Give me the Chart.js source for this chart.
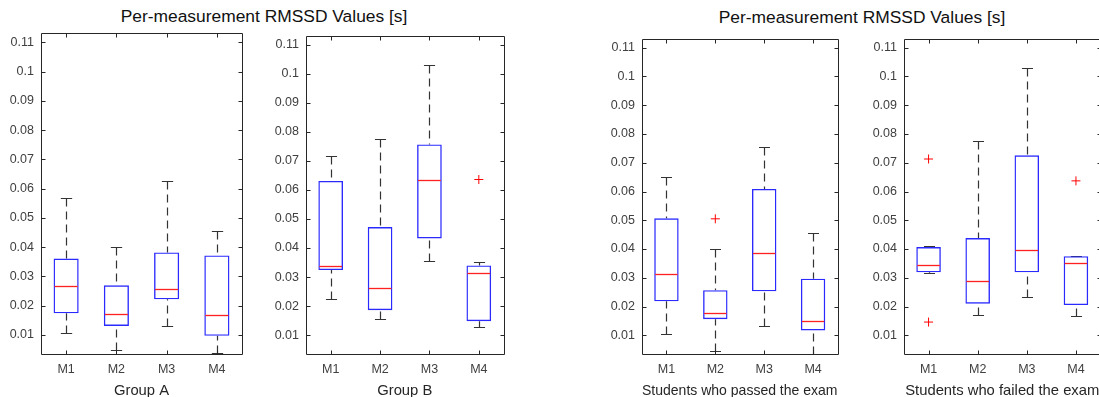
<!DOCTYPE html>
<html><head><meta charset="utf-8">
<script src="https://cdn.jsdelivr.net/npm/chart.js@4.4.0/dist/chart.umd.min.js"></script>
<style>
html,body{margin:0;padding:0;background:#fff;overflow:hidden;width:1099px;height:397px;position:relative;}
.panel{position:absolute;}
.title{position:absolute;font-family:"Liberation Sans",Arial,sans-serif;font-size:17.4px;line-height:19px;color:#111;white-space:nowrap;transform:translateX(-50%);}
</style></head><body>
<div class="title" style="left:264px;top:7px">Per-measurement RMSSD Values [s]</div>
<div class="title" style="left:862px;top:8px">Per-measurement RMSSD Values [s]</div>
<div class="panel" id="w1"><canvas id="c1"></canvas></div>
<div class="panel" id="w2"><canvas id="c2"></canvas></div>
<div class="panel" id="w3"><canvas id="c3"></canvas></div>
<div class="panel" id="w4"><canvas id="c4"></canvas></div>
<script>
// ---- data ----
const categories = ['M1', 'M2', 'M3', 'M4'];
const yTickValues = [0.01, 0.02, 0.03, 0.04, 0.05, 0.06, 0.07, 0.08, 0.09, 0.1, 0.11];
const yMin = 0.0035, yMax = 0.1132;

// Group A
const groupA_q1  = [0.0174, 0.0131, 0.0222, 0.0097];
const groupA_q3  = [0.0361, 0.0270, 0.0382, 0.0372];
const groupA_med = [0.0266, 0.0170, 0.0257, 0.0168];
const groupA_lo  = [0.0106, 0.0049, 0.0132, 0.0038];
const groupA_hi  = [0.0567, 0.0400, 0.0625, 0.0456];
const groupA_outCat = [];
const groupA_outVal = [];

// Group B
const groupB_q1  = [0.0324, 0.0186, 0.0433, 0.0148];
const groupB_q3  = [0.0631, 0.0472, 0.0757, 0.0340];
const groupB_med = [0.0339, 0.0263, 0.0635, 0.0314];
const groupB_lo  = [0.0226, 0.0157, 0.0356, 0.0128];
const groupB_hi  = [0.0716, 0.0777, 0.1031, 0.0353];
const groupB_outCat = ['M4'];
const groupB_outVal = [0.0636];

// Students who passed
const passed_q1  = [0.0218, 0.0156, 0.0253, 0.0117];
const passed_q3  = [0.0507, 0.0257, 0.0609, 0.0297];
const passed_med = [0.0313, 0.0178, 0.0387, 0.0151];
const passed_lo  = [0.0106, 0.0047, 0.0133, 0.0035];
const passed_hi  = [0.0649, 0.0400, 0.0756, 0.0455];
const passed_outCat = ['M2'];
const passed_outVal = [0.0505];

// Students who failed
const failed_q1  = [0.0319, 0.0210, 0.0319, 0.0205];
const failed_q3  = [0.0407, 0.0438, 0.0726, 0.0375];
const failed_med = [0.0346, 0.0289, 0.0396, 0.0352];
const failed_lo  = [0.0316, 0.0170, 0.0232, 0.0168];
const failed_hi  = [0.0411, 0.0777, 0.1030, 0.0375];
const failed_outCat = ['M1', 'M1', 'M4'];
const failed_outVal = [0.0713, 0.0146, 0.0637];

const xTitles = ['Group A', 'Group B', 'Students who passed the exam', 'Students who failed the exam'];

// ---- layout (plot rectangles) ----
const FONT = '"Liberation Sans", Arial, sans-serif';
const Y_W = 41, X_H = 50, PAD = 2;
const plots = [
  {L: 41,  T: 33, R: 242,  B: 354},
  {L: 306, T: 32, R: 507,  B: 354},
  {L: 642, T: 35, R: 841,  B: 354},
  {L: 904, T: 35, R: 1104, B: 354}
];

const crisp = v => Math.round(v) + 0.5;

const boxPlugin = {
  id: 'boxExtras',
  beforeDatasetsDraw(chart) {
    const ds = chart.data.datasets[0];
    const xs = chart.scales.x, ys = chart.scales.y, ctx = chart.ctx;
    const catW = xs.getPixelForValue(1) - xs.getPixelForValue(0);
    const capW = catW * 0.5 * 0.45;
    ctx.save();
    ctx.strokeStyle = '#333';
    ctx.lineWidth = 1.2;
    ds.stats.lo.forEach((lo, i) => {
      const x = crisp(xs.getPixelForValue(i));
      const yq1 = ys.getPixelForValue(ds.stats.q1[i]);
      const yq3 = ys.getPixelForValue(ds.stats.q3[i]);
      const ylo = crisp(ys.getPixelForValue(lo));
      const yhi = crisp(ys.getPixelForValue(ds.stats.hi[i]));
      ctx.setLineDash([8, 5]);
      ctx.beginPath();
      ctx.moveTo(x, ylo); ctx.lineTo(x, yq1);
      ctx.moveTo(x, yhi); ctx.lineTo(x, yq3);
      ctx.stroke();
      ctx.setLineDash([]);
      ctx.beginPath();
      ctx.moveTo(x - capW / 2, ylo); ctx.lineTo(x + capW / 2, ylo);
      ctx.moveTo(x - capW / 2, yhi); ctx.lineTo(x + capW / 2, yhi);
      ctx.stroke();
    });
    ctx.restore();
  },
  afterDatasetsDraw(chart) {
    const ds = chart.data.datasets[0];
    const xs = chart.scales.x, ys = chart.scales.y, ctx = chart.ctx;
    const catW = xs.getPixelForValue(1) - xs.getPixelForValue(0);
    const bw = catW * 0.5;
    ctx.save();
    ctx.strokeStyle = '#ff2020';
    ctx.lineWidth = 1.3;
    ds.stats.med.forEach((m, i) => {
      const x = xs.getPixelForValue(i);
      const y = crisp(ys.getPixelForValue(m));
      ctx.beginPath();
      ctx.moveTo(x - bw / 2 + 1, y); ctx.lineTo(x + bw / 2 - 1, y);
      ctx.stroke();
    });
    ctx.restore();
  },
  afterDraw(chart) {
    const a = chart.chartArea, ctx = chart.ctx;
    const xs = chart.scales.x, ys = chart.scales.y;
    ctx.save();
    ctx.strokeStyle = '#262626';
    ctx.lineWidth = 1;
    const l = crisp(a.left), r = crisp(a.right), t = crisp(a.top), b = crisp(a.bottom);
    ctx.beginPath();
    ctx.rect(l, t, r - l, b - t);
    yTickValues.forEach(v => {
      const y = crisp(ys.getPixelForValue(v));
      ctx.moveTo(l, y); ctx.lineTo(l + 4, y);
      ctx.moveTo(r, y); ctx.lineTo(r - 4, y);
    });
    categories.forEach((c, i) => {
      const x = crisp(xs.getPixelForValue(i));
      ctx.moveTo(x, b); ctx.lineTo(x, b - 4);
      ctx.moveTo(x, t); ctx.lineTo(x, t + 4);
    });
    ctx.stroke();
    ctx.restore();
  }
};

function makePanel(idx, q1, q3, med, lo, hi, outCat, outVal) {
  const p = plots[idx];
  const w = document.getElementById('w' + (idx + 1));
  const width = Y_W + (p.R - p.L) + PAD;
  const height = (p.B - p.T) + PAD + X_H;
  w.style.left = (p.L - Y_W) + 'px';
  w.style.top = (p.T - PAD) + 'px';
  w.style.width = width + 'px';
  w.style.height = height + 'px';
  const boxes = q1.map((v, i) => [v, q3[i]]);
  const outliers = outCat.map((c, i) => ({x: c, y: outVal[i]}));
  new Chart(document.getElementById('c' + (idx + 1)), {
    type: 'bar',
    data: {
      labels: categories,
      datasets: [
        {
          type: 'bar',
          data: boxes,
          stats: {q1, q3, med, lo, hi},
          backgroundColor: 'rgba(0,0,0,0)',
          borderColor: '#2a2aff',
          borderWidth: 1.4,
          borderSkipped: false,
          barPercentage: 0.5,
          categoryPercentage: 1.0
        },
        {
          type: 'line',
          data: outliers,
          showLine: false,
          pointStyle: 'cross',
          pointRadius: 4.5,
          pointBorderWidth: 1,
          borderColor: '#ff0000',
          pointBorderColor: '#ff0000',
          backgroundColor: '#ff0000'
        }
      ]
    },
    options: {
      responsive: true,
      maintainAspectRatio: false,
      animation: false,
      events: [],
      layout: {padding: {top: PAD, right: PAD, left: 0, bottom: 0}},
      plugins: {legend: {display: false}, tooltip: {enabled: false}, title: {display: false}},
      scales: {
        x: {
          type: 'category',
          offset: true,
          grid: {display: false, drawTicks: false},
          border: {display: false},
          ticks: {font: {family: FONT, size: 12.5}, color: '#404040', padding: 8, maxRotation: 0, autoSkip: false},
          title: {display: true, text: xTitles[idx], font: {family: FONT, size: 14.8}, color: '#262626', padding: {top: 0, bottom: 4}},
          afterFit(s) { s.height = X_H; s.paddingLeft = 0; s.paddingRight = 0; }
        },
        y: {
          type: 'linear',
          min: yMin,
          max: yMax,
          grid: {display: false, drawTicks: false},
          border: {display: false},
          ticks: {font: {family: FONT, size: 12.5}, color: '#404040', padding: 7,
                  callback: v => String(+Number(v).toFixed(2))},
          afterBuildTicks(s) { s.ticks = yTickValues.map(v => ({value: v})); },
          afterFit(s) { s.width = Y_W; s.paddingTop = 0; s.paddingBottom = 0; }
        }
      }
    },
    plugins: [boxPlugin]
  });
}

makePanel(0, groupA_q1, groupA_q3, groupA_med, groupA_lo, groupA_hi, groupA_outCat, groupA_outVal);
makePanel(1, groupB_q1, groupB_q3, groupB_med, groupB_lo, groupB_hi, groupB_outCat, groupB_outVal);
makePanel(2, passed_q1, passed_q3, passed_med, passed_lo, passed_hi, passed_outCat, passed_outVal);
makePanel(3, failed_q1, failed_q3, failed_med, failed_lo, failed_hi, failed_outCat, failed_outVal);
</script>
</body></html>
